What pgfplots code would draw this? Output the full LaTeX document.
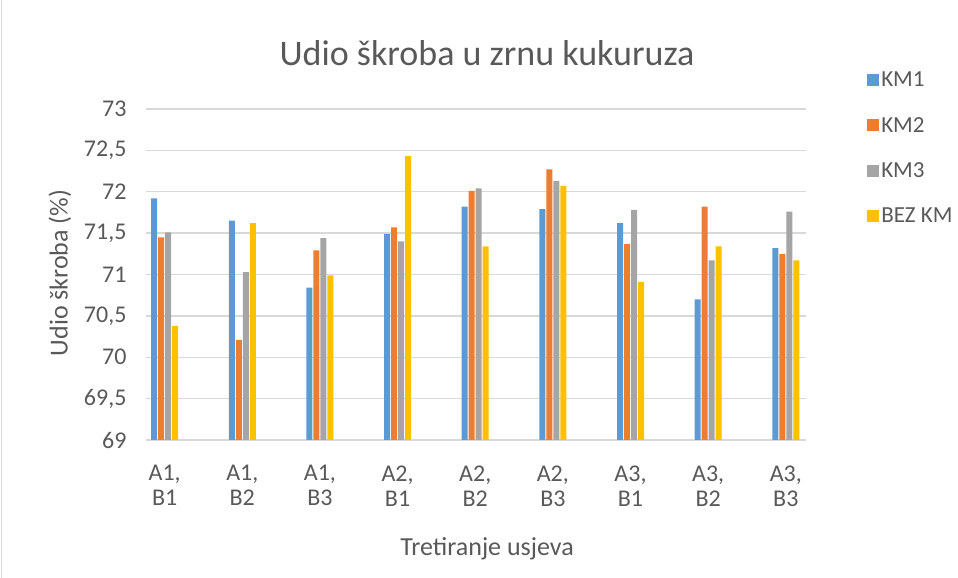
\documentclass[border=0pt]{standalone}
\usepackage{fontspec}
\setmainfont{Carlito}
\usepackage{pgfplots}
\usepackage{pgfplotstable}
\pgfplotsset{compat=1.18}
\definecolor{kma}{HTML}{5B9BD5}
\definecolor{kmb}{HTML}{ED7D31}
\definecolor{kmc}{HTML}{A5A5A5}
\definecolor{kmd}{HTML}{FFC000}
\definecolor{txt}{HTML}{595959}
\definecolor{gridc}{HTML}{D9D9D9}
\pgfplotstableread{
x KM1 KM2 KM3 BEZ
0 71.92 71.45 71.51 70.38
1 71.65 70.21 71.03 71.62
2 70.84 71.29 71.44 70.99
3 71.49 71.57 71.40 72.43
4 71.82 72.01 72.04 71.34
5 71.79 72.27 72.13 72.07
6 71.62 71.37 71.78 70.91
7 70.70 71.82 71.17 71.34
8 71.32 71.25 71.76 71.17
}\datatable
\begin{document}
\begin{tikzpicture}[x=1pt,y=1pt]
\path[use as bounding box] (0,0) rectangle (958,578);
\draw[gridc, line width=1.5pt] (1.5,0) -- (1.5,578);
\begin{axis}[
  at={(146pt,138pt)}, anchor=south west,
  scale only axis, width=660pt, height=331pt,
  ymin=69, ymax=73, ytick distance=0.5,
  xmin=-0.24, xmax=8.26,
  ybar=1pt, bar width=6pt,
  axis line style={draw=none},
  ymajorgrids, grid style={gridc, line width=1.4pt},
  major tick length=0pt,
  xtick={0,...,8},
  xticklabels={{A1,\\B1},{A1,\\B2},{A1,\\B3},{A2,\\B1},{A2,\\B2},{A2,\\B3},{A3,\\B1},{A3,\\B2},{A3,\\B3}},
  xticklabel style={align=center, text=txt, font=\fontsize{24}{25}\selectfont, yshift=-22pt},
  yticklabel style={text=txt, font=\fontsize{24}{28}\selectfont, xshift=-16pt},
  /pgf/number format/.cd, use comma, 1000 sep={}, assume math mode=true,
  /pgfplots/.cd,
  legend style={at={(axis description cs:1.088,1.125)}, anchor=north west, draw=none, fill=none,
     font=\fontsize{23}{28}\selectfont, text=txt, row sep=25pt},
  legend image code/.code={\fill[#1] (-4pt,-6pt) rectangle (8pt,6pt);},
  legend cell align=left,
]
\addplot[fill=kma, draw=none] table[x=x, y=KM1] {\datatable};
\addplot[fill=kmb, draw=none] table[x=x, y=KM2] {\datatable};
\addplot[fill=kmc, draw=none] table[x=x, y=KM3] {\datatable};
\addplot[fill=kmd, draw=none] table[x=x, y=BEZ] {\datatable};
\legend{KM1, KM2, KM3, BEZ KM}
\end{axis}
\node[anchor=base, text=txt, font=\fontsize{36}{40}\selectfont] at (487,512) {Udio škroba u zrnu kukuruza};
\node[rotate=90, text=txt, font=\fontsize{26}{30}\selectfont] at (60,305) {Udio škroba (\%)};
\node[anchor=base, text=txt, font=\fontsize{26}{30}\selectfont] at (487,23) {Tretiranje usjeva};
\end{tikzpicture}
\end{document}
